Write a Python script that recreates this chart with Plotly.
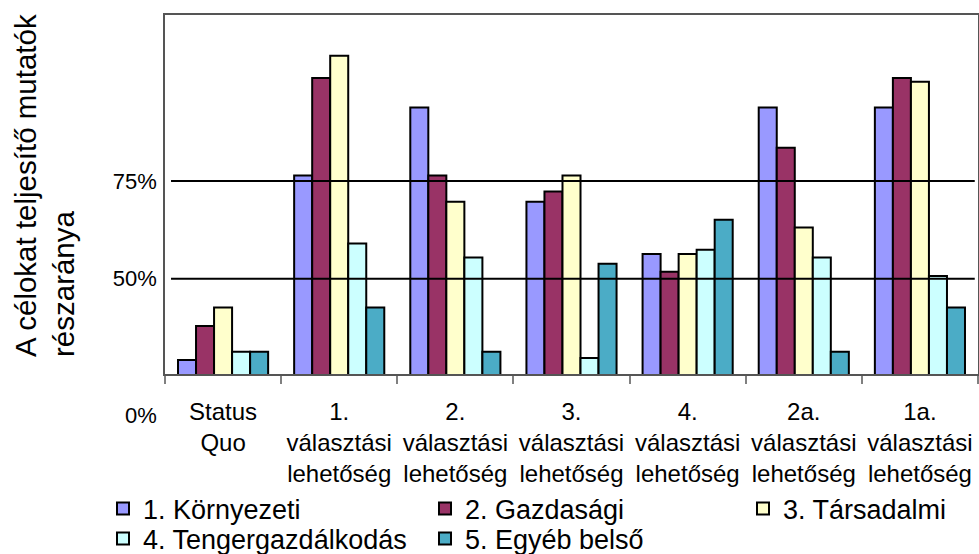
import plotly.graph_objects as go

categories = [
    "Status<br>Quo",
    "1.<br>választási<br>lehetőség",
    "2.<br>választási<br>lehetőség",
    "3.<br>választási<br>lehetőség",
    "4.<br>választási<br>lehetőség",
    "2a.<br>választási<br>lehetőség",
    "1a.<br>választási<br>lehetőség",
]
series_names = ["1. Környezeti", "2. Gazdasági", "3. Társadalmi",
                "4. Tengergazdálkodás", "5. Egyéb belső"]
kornyezeti = [29.2, 76.4, 93.8, 69.7, 56.3, 93.8, 93.8]
gazdasagi = [37.9, 101.4, 76.4, 72.3, 51.8, 83.5, 101.4]
tarsadalmi = [42.6, 107.1, 69.7, 76.4, 56.3, 63.1, 100.4]
tengergazd = [31.3, 59.0, 55.4, 29.7, 57.4, 55.4, 50.7]
egyeb = [31.3, 42.6, 31.3, 53.8, 65.1, 31.3, 42.6]
tick_vals = [50, 75]
tick_text = ["50%", "75%"]
colors = ["#9999FF", "#993366", "#FFFFCC", "#CCFFFF", "#4BACC6"]
FONT = "Liberation Sans, Arial, sans-serif"

W, H = 979, 554
ML, MR, MT, MB = 165, 1, 15, 180
PH = H - MT - MB

fig = go.Figure()
all_series = [kornyezeti, gazdasagi, tarsadalmi, tengergazd, egyeb]
legend_ids = ["legend", "legend2", "legend3", "legend4", "legend5"]
for name, vals, col, lid in zip(series_names, all_series, colors, legend_ids):
    fig.add_trace(go.Bar(
        x=categories, y=vals, name=name,
        marker=dict(color=col, line=dict(color="black", width=2)),
        legend=lid,
    ))

for v in tick_vals:
    fig.add_shape(type="line", xref="paper", yref="y", x0=0.0074, x1=0.996,
                  y0=v, y1=v, line=dict(color="black", width=2), layer="above")

fig.add_annotation(text="0%", xref="paper", yref="paper",
                   x=(141 - ML) / 813, y=-(415 - (H - MB)) / PH,
                   xanchor="center", yanchor="middle", showarrow=False,
                   font=dict(family=FONT, size=22, color="black"))
fig.add_annotation(text="A célokat teljesítő mutatók<br>részaránya",
                   xref="paper", yref="paper", textangle=-90, align="left",
                   x=(44 - ML) / 813, y=((H - MB) - 186) / PH,
                   xanchor="center", yanchor="middle", showarrow=False,
                   font=dict(family=FONT, size=29.5, color="black"))

legend_common = dict(
    orientation="h", xref="container", yref="container",
    xanchor="left", yanchor="middle",
    font=dict(family=FONT, size=27, color="black"),
    bgcolor="rgba(0,0,0,0)",
    itemclick=False, itemdoubleclick=False,
)
# (x of entry start, y of row centre) in container pixels
legend_pos = [(103, 509), (425, 509), (743, 509), (103, 539), (425, 539)]
legend_layout = {}
for lid, (px, py) in zip(legend_ids, legend_pos):
    legend_layout[lid] = dict(x=px / W, y=1 - py / H, **legend_common)

fig.update_layout(
    width=W, height=H,
    margin=dict(l=ML, r=MR, t=MT, b=MB, autoexpand=False),
    paper_bgcolor="white", plot_bgcolor="white",
    barmode="group", bargap=0.224, bargroupgap=0,
    font=dict(family=FONT, color="black"),
    showlegend=True,
    xaxis=dict(
        type="category", showgrid=False, tickson="boundaries",
        ticks="outside", ticklen=8, tickcolor="#808080", tickwidth=1.5,
        showline=True, linecolor="#555555", linewidth=1.5, mirror=True,
        tickfont=dict(family=FONT, size=24, color="black"),
        ticklabelstandoff=15, fixedrange=True, automargin=False,
    ),
    yaxis=dict(
        range=[25.6, 117.5], tickvals=tick_vals, ticktext=tick_text,
        showgrid=False, zeroline=False, ticks="",
        showline=True, linecolor="#555555", linewidth=1.5, mirror=True,
        tickfont=dict(family=FONT, size=22, color="black"),
        ticklabelstandoff=2, fixedrange=True, automargin=False,
    ),
    **legend_layout,
)

fig.write_html("out.html",
               config={"displayModeBar": False},
               post_script="document.body.style.margin='0px';")
